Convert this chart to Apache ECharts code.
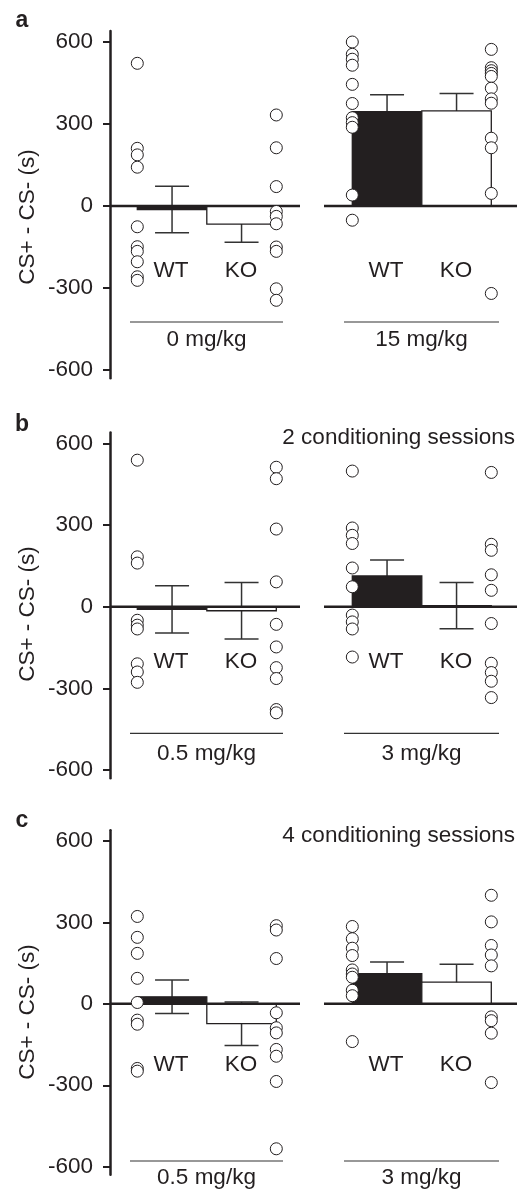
<!DOCTYPE html>
<html>
<head>
<meta charset="utf-8">
<script src="https://cdn.jsdelivr.net/npm/echarts@6/dist/echarts.min.js"></script>
<style>
html, body { margin: 0; padding: 0; background: #fff; }
#main { width: 519px; height: 1189px; }
</style>
</head>
<body>
<div id="main"></div>
<script>
// categories
const doses = [['0 mg/kg', '15 mg/kg'], ['0.5 mg/kg', '3 mg/kg'], ['0.5 mg/kg', '3 mg/kg']]
const genotypes = ['WT', 'KO']
const letters = ['a', 'b', 'c']
const sessions = ['', '2 conditioning sessions', '4 conditioning sessions']
const yTicks = [-600, -300, 0, 300, 600]

// mean / sem, order: WT left, KO left, WT right, KO right
const meanA = [-13, -66, 345, 348]
const semA = [85, 67, 62, 64]
const meanB = [-10, -15, 113, 4]
const semB = [87, 104, 58, 85]
const meanC = [26, -73, 111, 80]
const semC = [62, 80, 43, 66]

// single animals
const ptsA = [
  [522, 211, 187, 142, -76, -149, -166, -204, -259, -272],
  [333, 213, 71, -20, -38, -65, -150, -166, -303, -345],
  [600, 555, 537, 515, 445, 375, 323, 305, 288, 40, -52],
  [573, 506, 495, 485, 474, 431, 392, 376, 248, 213, 46, -320]
]
const ptsB = [
  [538, 183, 160, -50, -68, -82, -210, -240, -278],
  [512, 470, 285, 91, -65, -148, -224, -264, -378, -390],
  [498, 289, 262, 232, 142, 73, -31, -56, -82, -185],
  [493, 229, 207, 117, 60, -62, -208, -242, -274, -334]
]
const ptsC = [
  [322, 245, 186, 94, 5, -60, -75, -238, -248],
  [288, 272, 167, -33, -88, -107, -168, -193, -286, -534],
  [285, 240, 205, 178, 125, 110, 98, 50, 30, -139],
  [400, 302, 215, 180, 140, -48, -62, -108, -290]
]

const means = [meanA, meanB, meanC]
const sems = [semA, semB, semC]
const pts = [ptsA, ptsB, ptsC]

// layout (pixels)
const ink = '#231f20'
const font = '"Liberation Sans", Arial, sans-serif'
const fs = 22.5
const gridLeft = 110
const gridW = 407
const groupStart = [27.3, 242.3] // x of WT bar left edge, in grid units
const barW = 69.5
const zeroSegs = [[0, 190], [214, 407]]
const panels = [
  { y600: 42, yM600: 370, letterY: 21, titleY: 0, genoY: 271, ruleY: 322, doseY: 340, ylabY: 217 },
  { y600: 443.3, yM600: 770, letterY: 424.5, titleY: 437.5, genoY: 662, ruleY: 733.3, doseY: 754, ylabY: 614 },
  { y600: 841, yM600: 1166.7, letterY: 821, titleY: 836, genoY: 1065, ruleY: 1161, doseY: 1177.5, ylabY: 1012 }
]
const genoX = [[171, 241], [386, 456]]
const doseX = [206.5, 421.5]
const ruleX = [[130, 283], [344, 499]]

function barX(i) {
  let x0 = groupStart[Math.floor(i / 2)] + (i % 2) * barW
  return [x0, x0 + barW]
}

let grids = [], xAxes = [], yAxes = [], series = [], graphics = []

panels.forEach((p, k) => {
  let s = (p.yM600 - p.y600) / 1200
  grids.push({ left: gridLeft, width: gridW, top: p.y600 - 40 * s, height: 1270 * s })
  xAxes.push({ type: 'value', gridIndex: k, min: 0, max: gridW, show: false })
  yAxes.push({
    type: 'value', gridIndex: k, min: -630, max: 640,
    axisLine: { show: true, onZero: false, lineStyle: { color: ink, width: 2.5 } },
    axisTick: { show: true, customValues: yTicks, length: 7, lineStyle: { color: ink, width: 2 } },
    axisLabel: { customValues: yTicks, color: ink, fontSize: fs, fontFamily: font, margin: 17 },
    splitLine: { show: false }
  })

  // error bars, behind the bars
  series.push({
    type: 'custom', xAxisIndex: k, yAxisIndex: k, z: 1, silent: true,
    data: means[k].map((m, i) => [i, m, sems[k][i]]),
    renderItem(params, api) {
      let i = api.value(0), m = api.value(1), e = api.value(2)
      let xs = barX(i)
      let xc = (xs[0] + xs[1]) / 2
      let top = api.coord([xc, m + e]), bot = api.coord([xc, m - e])
      let st = { stroke: '#333', lineWidth: 1.5 }
      return {
        type: 'group', children: [
          { type: 'line', shape: { x1: top[0], y1: top[1], x2: bot[0], y2: bot[1] }, style: st },
          { type: 'line', shape: { x1: top[0] - 17, y1: top[1], x2: top[0] + 17, y2: top[1] }, style: st },
          { type: 'line', shape: { x1: bot[0] - 17, y1: bot[1], x2: bot[0] + 17, y2: bot[1] }, style: st }
        ]
      }
    }
  })

  // bars
  series.push({
    type: 'custom', xAxisIndex: k, yAxisIndex: k, z: 2, silent: true,
    data: means[k].map((m, i) => [i, m]),
    renderItem(params, api) {
      let i = api.value(0), m = api.value(1)
      let xs = barX(i)
      let a = api.coord([xs[0], 0]), b = api.coord([xs[1], m])
      return {
        type: 'rect',
        shape: { x: a[0], y: Math.min(a[1], b[1]), width: b[0] - a[0], height: Math.max(Math.abs(b[1] - a[1]), 1) },
        style: { fill: i % 2 === 0 ? ink : '#fff', stroke: ink, lineWidth: 1.3 }
      }
    }
  })

  // zero line
  series.push({
    type: 'custom', xAxisIndex: k, yAxisIndex: k, z: 3, silent: true,
    data: zeroSegs,
    renderItem(params, api) {
      let a = api.coord([api.value(0), 0]), b = api.coord([api.value(1), 0])
      return { type: 'line', shape: { x1: a[0], y1: a[1], x2: b[0], y2: b[1] }, style: { stroke: ink, lineWidth: 2.5 } }
    }
  })

  // individual points: WT at left edge of its bar, KO at right edge
  let dots = []
  pts[k].forEach((vals, i) => {
    let xs = barX(i)
    let x = i % 2 === 0 ? xs[0] : xs[1]
    vals.forEach(v => dots.push([x, v]))
  })
  series.push({
    type: 'scatter', xAxisIndex: k, yAxisIndex: k, z: 4, silent: true,
    symbol: 'circle', symbolSize: 12,
    itemStyle: { color: '#fff', borderColor: ink, borderWidth: 1, opacity: 1 },
    data: dots
  })

  // texts
  let txt = (text, x, y, extra) => Object.assign({
    type: 'text', x: x, y: y,
    style: { text: text, fill: ink, font: fs + 'px ' + font, align: 'center', verticalAlign: 'middle' }
  }, extra || {})
  graphics.push(txt(letters[k], 22, p.letterY, {
    style: { text: letters[k], fill: ink, font: 'bold 23px ' + font, align: 'center', verticalAlign: 'middle' }
  }))
  if (sessions[k]) {
    graphics.push(txt(sessions[k], 515, p.titleY, {
      style: { text: sessions[k], fill: ink, font: fs + 'px ' + font, align: 'right', verticalAlign: 'middle' }
    }))
  }
  graphics.push(txt('CS+ - CS- (s)', 28, p.ylabY, { rotation: Math.PI / 2 }))
  for (let g = 0; g < 2; g++) {
    genotypes.forEach((name, j) => graphics.push(txt(name, genoX[g][j], p.genoY)))
    graphics.push({
      type: 'line',
      shape: { x1: ruleX[g][0], y1: p.ruleY, x2: ruleX[g][1], y2: p.ruleY },
      style: { stroke: '#333', lineWidth: 1.2 }
    })
    graphics.push(txt(doses[k][g], doseX[g], p.doseY))
  }
})

let chart = echarts.init(document.getElementById('main'), null, { renderer: 'canvas' })
chart.setOption({
  animation: false,
  backgroundColor: '#fff',
  grid: grids,
  xAxis: xAxes,
  yAxis: yAxes,
  series: series,
  graphic: graphics
})
</script>
</body>
</html>
